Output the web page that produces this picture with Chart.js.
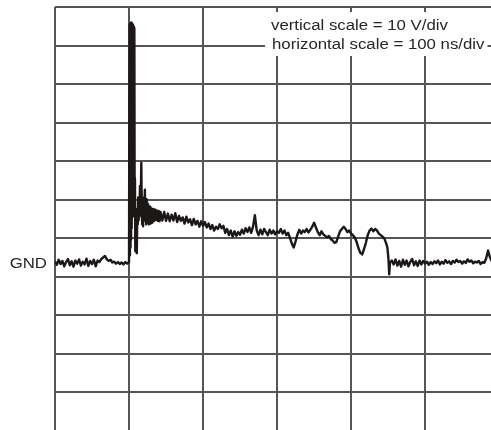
<!DOCTYPE html>
<html>
<head>
<meta charset="utf-8">
<script src="https://cdn.jsdelivr.net/npm/chart.js@4.4.1/dist/chart.umd.min.js"></script>
<style>
  html, body { margin: 0; padding: 0; background: #ffffff; }
  #wrap { width: 491px; height: 430px; position: relative; overflow: hidden; }
</style>
</head>
<body>
<div id="wrap"><canvas id="c" width="491" height="430"></canvas></div>
<script>
// ---- data (time in ns, voltage in V; 10 V/div, 100 ns/div) ----
const PRE_TRIGGER = [[0,0.3],[2.5,-0.5],[5,0.8],[7.5,-0.3],[10,0.5],[12.5,-0.9],[15,0.2],[17.5,1.0],[20,-0.6],[22.5,0.4],[25,-1.0],[27.5,0.6],[30,-0.2],[32.5,0.9],[35,-0.7],[37.5,0.3],[40,-0.4],[42.5,1.1],[45,-0.8],[47.5,0.5],[50,-0.3],[52.5,0.8],[55,-0.9],[57.5,0.6],[60,0.2],[62.5,1.0],[65,1.4],[67.5,1.8],[70,0.9],[72.5,0.5],[75,0.8],[77.5,0.1],[80,0.3],[82.5,-0.2],[85,0.2],[87.5,-0.3],[90,0.1],[92.5,-0.4],[95,0.2],[97.5,-0.2]];

const SPIKE = [[100,0.2],[100.4,40],[100.8,62.0],[101.2,2],[101.6,62.2],[102.0,4],[102.4,62.3],[102.8,6],[103.2,62.4],[103.6,9],[104.0,62.2],[104.4,12],[104.8,62.0],[105.2,15],[105.6,61.7],[106.0,18],[106.4,61.4],[106.8,22],[107.2,61.0],[107.6,12],[108,22],[108.5,3],[109.5,6],[110.5,2.5],
[111.2,14],[111.8,10],[112.4,17],[113.0,11],[113.6,16],[114.2,12],[114.8,20],[115.4,13],[116.0,18],[116.6,26],[117.2,14],[117.8,10],[118.4,16],[119.0,9.5],[119.6,17],[120.2,11],[120.8,15],[121.4,19],[122.0,11],[122.6,16],[123.2,10],[123.8,16.5],[124.4,10.5],[125.0,15.5],[125.6,10.5],[126.2,15],[126.8,10],[127.4,14.5],[128.0,10.5],[128.6,14.6],[129.2,10.2],[130,14.2],[131.2,10.4]];

const DECAY = [[132.5,14.0],[133.7,10.8],[135,13.9],[136.2,11.2],[137.5,13.6],[138.7,10.9],[140,13.5],[141.2,10.8],[142.5,13.2],[145,11.0],[147.5,13.2],[150,10.9],[152.5,12.8],[155,10.8],[157.5,12.5],[160,11.0],[162.5,12.9],[165,10.6],[167.5,12.2],[170,10.9],[172.5,11.8],[175,10.2],[177.5,12.0],[180,10.5],[182.5,11.3],[185,9.8],[187.5,11.4],[190,10.0],[192.5,10.9],[195,9.4],[197.5,10.8],[200,9.6],[202.5,10.6],[205,9.2],[207.5,10.2],[210,8.8],[212.5,9.8],[215,8.4],[217.5,9.4],[220,8.8],[222.5,10.0],[225,9.0],[227.5,9.6],[230,7.8],[232.5,8.8],[235,7.2],[237.5,8.4],[240,6.8],[242.5,8.2],
[245,7.0],[247.5,8.0],[250,7.3],[252.5,8.6],[255,7.6],[257.5,9.0],[260,8.0],[262.5,9.2],[265,7.8],[267.5,9.4],[270,12.4],[272.5,8.4],[275,7.2],[277.5,8.6],[280,7.4],[282.5,8.8],[285,8.0],[287.5,7.2],[290,8.6],[292.5,7.6],[295,8.4],[297.5,7.4],[300,8.2],[302.5,7.8],[305,8.8],[307.5,7.6],[310,8.4],[312.5,7.2],[315,7.8],[317.5,6.4],[320,5.0],[322.5,4.0],[325,5.6],[327.5,7.4],[330,8.6],[332.5,7.6],[335,8.4],[337.5,8.0],[340,8.8],[342.5,7.9],[345,8.6],[347.5,9.4],[350,10.4],[352.5,9.2],[355,8.0],[357.5,7.2],[360,8.2],[362.5,7.4],[365,7.0],[367.5,6.6],[370,7.0],[372.5,6.2],[375,5.8],[377.5,5.2],[380,5.4],[382.5,6.8],[385,8.2],[387.5,8.8],[390,9.4],[392.5,8.8],[395,8.0],[397.5,8.4],[400,7.6],[402.5,7.2],[405,6.6],[407.5,5.4],[410,3.8],[412.5,2.6],[415,2.2],[417.5,3.6],[420,5.2],[422.5,7.2],[425,8.4],[427.5,8.9],[430,8.2],[432.5,8.8],[435,8.4],[437.5,7.6],[440,7.2],[442.5,6.8],[445,6.3],[447.5,5.0],[449,4.0]];

const POST_STEP = [[450.5,1.0],[451.5,-3.0],[452.5,0.0],[455,0.6],[457.5,-0.4],[460,0.9],[462.5,-0.7],[465,0.5],[467.5,-1.0],[470,0.8],[472.5,-0.5],[475,0.6],[477.5,-0.9],[480,0.3],[482.5,1.0],[485,-0.6],[487.5,0.4],[490,-0.8],[492.5,0.6],[495,-0.4],[497.5,0.5],[500,-0.2],[502.5,0.3],[505,-0.5],[507.5,0.2],[510,-0.3],[512.5,0.4],[515,-0.1],[517.5,0.6],[520,-0.4],[522.5,0.3],[525,-0.2],[527.5,0.7],[530,0.0],[532.5,0.4],[535,-0.3],[537.5,0.5],[540,0.1],[542.5,0.8],[545,0.2],[547.5,0.5],[550,-0.2],[552.5,0.4],[555,0.0],[557.5,0.9],[560,0.3],[562.5,0.6],[565,-0.1],[567.5,0.3],[570,0.1],[572.5,0.5],[575,-0.3],[577.5,0.2],[580,0.0],[582.5,1.2],[585,3.2],[587.5,1.5],[590,0.4]];

// graticule (V) : horizontal division lines, and time divisions (ns)
const V_GRID = [-33.56, -23.56, -13.56, -3.56, 6.44, 16.44, 26.44, 36.44, 46.44, 56.44, 66.44];
const T_GRID = [0, 100, 200, 300, 400, 500];
const SCALE_LABELS = ['vertical scale = 10 V/div', 'horizontal scale = 100 ns/div'];
const GND_LABEL = 'GND';
const GND_LEVEL = 0;

// ---- chart ----
const trace = [].concat(PRE_TRIGGER, SPIKE, DECAY, POST_STEP).map(p => ({ x: p[0], y: p[1] }));
const GRID_COLOR = '#555555';
const FONT = '14px "Liberation Sans", Arial, Helvetica, sans-serif';
const TEXT_COLOR = '#262626';

function stretchedText(ctx, text, x, y, align) {
  ctx.save();
  ctx.font = FONT;
  ctx.fillStyle = TEXT_COLOR;
  ctx.textBaseline = 'alphabetic';
  ctx.textAlign = align;
  ctx.translate(x, y);
  ctx.scale(1.2, 1);
  ctx.fillText(text, 0, 0);
  ctx.restore();
}

const labelsPlugin = {
  id: 'scopeLabels',
  afterDraw(chart) {
    const ctx = chart.ctx;
    ctx.save();
    ctx.fillStyle = '#ffffff';
    ctx.fillRect(265, 12, 222.5, 44);
    ctx.restore();
    stretchedText(ctx, SCALE_LABELS[0], 271, 29.5, 'left');
    stretchedText(ctx, SCALE_LABELS[1], 272, 49, 'left');
    const yg = chart.scales.y.getPixelForValue(GND_LEVEL);
    stretchedText(ctx, GND_LABEL, 47, yg + 5, 'right');
  }
};

new Chart(document.getElementById('c'), {
  type: 'line',
  data: {
    datasets: [{
      data: trace,
      borderColor: '#1c1818',
      borderWidth: 2.4,
      borderJoinStyle: 'round',
      borderCapStyle: 'round',
      borderDash: [1000000, 0],
      pointRadius: 0,
      tension: 0,
      fill: false
    }]
  },
  options: {
    responsive: false,
    animation: false,
    devicePixelRatio: 1,
    layout: { padding: { top: 7, left: 0, right: 0, bottom: 0 } },
    plugins: { legend: { display: false }, tooltip: { enabled: false }, title: { display: false } },
    scales: {
      x: {
        type: 'linear',
        min: 0,
        max: 589,
        afterBuildTicks(s) { s.ticks = T_GRID.map(v => ({ value: v })); },
        ticks: { display: false },
        grid: { color: GRID_COLOR, lineWidth: 2, drawTicks: false },
        border: { display: false },
        afterFit(s) { s.height = 0; s.paddingLeft = 0; s.paddingRight = 0; }
      },
      y: {
        type: 'linear',
        min: -43.4,
        max: 66.44,
        afterBuildTicks(s) { s.ticks = V_GRID.map(v => ({ value: v })); },
        ticks: { display: false },
        grid: { color: GRID_COLOR, lineWidth: 2, drawTicks: false },
        border: { display: false },
        afterFit(s) { s.width = 55; s.paddingTop = 0; s.paddingBottom = 0; }
      }
    }
  },
  plugins: [labelsPlugin]
});
</script>
</body>
</html>
